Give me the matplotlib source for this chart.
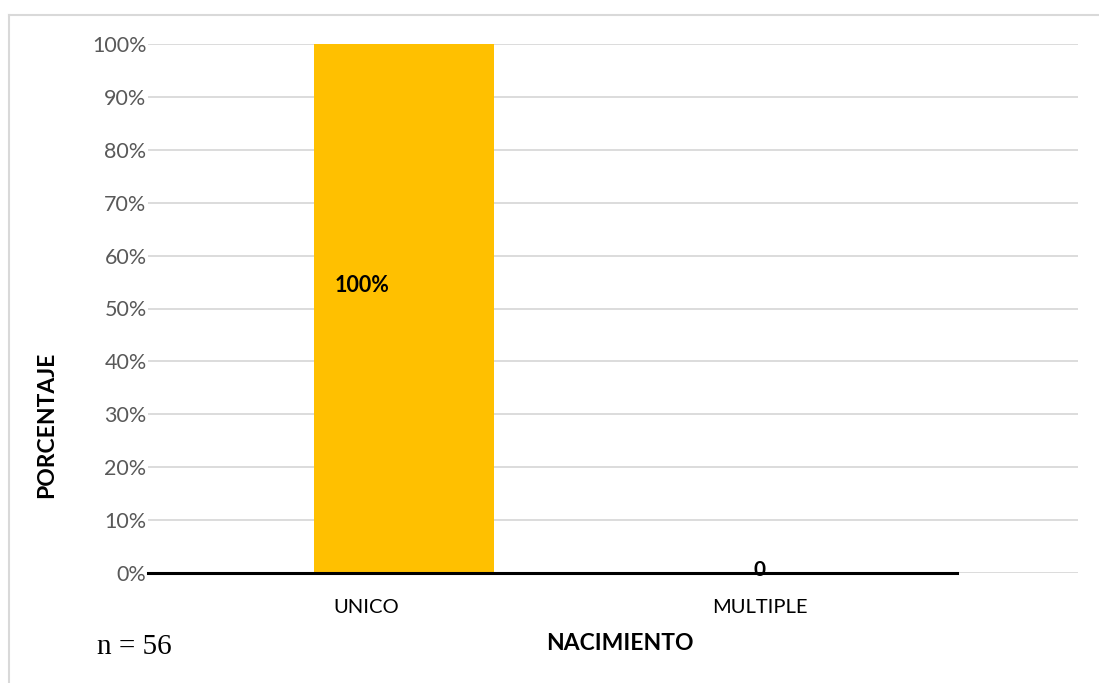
import matplotlib.pyplot as plt
from matplotlib.lines import Line2D

# Tipo de nacimiento (proporcion de casos)
categorias = ['UNICO', 'MULTIPLE']
porcentajes = [1.00, 0.0]
etiquetas = ['100%', '0']
y_ticks = [0.0, 0.1, 0.2, 0.3, 0.4, 0.5, 0.6, 0.7, 0.8, 0.9, 1.0]
y_tick_labels = ['0%', '10%', '20%', '30%', '40%', '50%', '60%', '70%', '80%', '90%', '100%']
n_muestra = 56

W, H = 1099, 683
fig = plt.figure(figsize=(W / 100, H / 100), dpi=100)
plt.rcParams['font.family'] = ['Lato', 'DejaVu Sans']

# area del grafico en pixeles
left, right, top, bottom = 148, 1078, 44, 573
ax = fig.add_axes([left / W, 1 - bottom / H, (right - left) / W, (bottom - top) / H])

x = list(range(len(categorias)))
# las barras van algo desplazadas respecto a su etiqueta
ax.bar(x[0] + 0.096, porcentajes[0], width=0.457, color='#FFC000', zorder=2)

ax.set_xlim(-0.553, 1.807)
ax.set_ylim(0, 1.0)
ax.set_yticks(y_ticks)
ax.set_yticklabels(y_tick_labels, color='#595959', fontsize=15.5)
ax.set_xticks(x)
ax.set_xticklabels(categorias, fontsize=14.5, color='#000000')
ax.tick_params(axis='both', length=0)
ax.tick_params(axis='y', pad=1)
ax.tick_params(axis='x', pad=19)
ax.grid(axis='y', color='#D9D9D9', linewidth=1.3, zorder=0)
for s in ax.spines.values():
    s.set_visible(False)

# linea base negra
ax.plot([-0.553, 1.5], [0, 0], color='black', linewidth=2.2, zorder=3, clip_on=False)

ax.text(x[0] - 0.01, 0.543, etiquetas[0], fontsize=15.5, fontweight='bold',
        ha='center', va='center', zorder=4)
ax.text(x[1], porcentajes[1] + 0.006, etiquetas[1], fontsize=15, fontweight='bold',
        ha='center', va='center', zorder=4)

fig.text(47 / W, 1 - 425 / H, 'PORCENTAJE', rotation=90, fontsize=16.5,
         fontweight='bold', ha='center', va='center')
fig.text(620 / W, 1 - 643 / H, 'NACIMIENTO', fontsize=16.5,
         fontweight='bold', ha='center', va='center')
fig.text(97 / W, 1 - 647 / H, 'n = {}'.format(n_muestra), fontsize=21,
         family='Liberation Serif', ha='left', va='center')

# marco gris
fig.add_artist(Line2D([8.5 / W, 1], [1 - 14.5 / H, 1 - 14.5 / H], color='#D9D9D9', linewidth=1.5))
fig.add_artist(Line2D([8.5 / W, 8.5 / W], [0, 1 - 14.5 / H], color='#D9D9D9', linewidth=1.5))

fig.savefig('out.png', dpi=100)
